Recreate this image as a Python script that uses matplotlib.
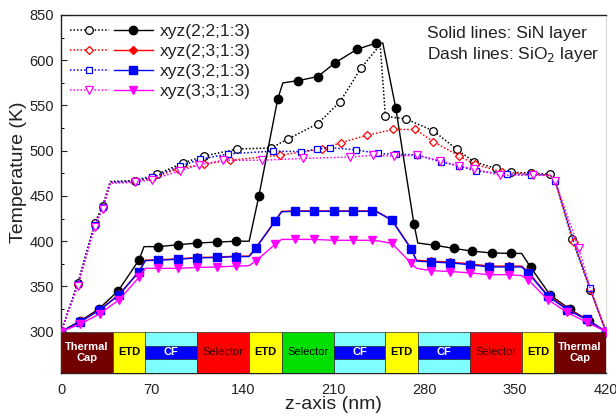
import matplotlib
matplotlib.use("Agg")
import matplotlib.pyplot as plt
from matplotlib.patches import Rectangle
from matplotlib.legend_handler import HandlerTuple

plt.rcParams['font.family'] = ['Liberation Sans', 'DejaVu Sans']

# ---------------- data ----------------
labels = ["xyz(2;2;1:3)", "xyz(2;3;1:3)", "xyz(3;2;1:3)", "xyz(3;3;1:3)"]

# Solid lines: SiN layer
sin22_x = [0, 15, 29, 44, 60, 64, 75, 90, 105, 120, 135, 145, 152.5, 167, 171, 183, 198, 211, 228, 243, 248,
           258, 272, 275, 288, 303, 317, 332, 347, 355, 362, 377, 392, 407, 420]
sin22_t = [300, 312, 325, 345, 379, 394, 394, 396, 398, 399, 400, 400, 450, 557, 575, 577.5, 582, 597, 612, 619, 619,
           547, 419, 398, 395.5, 392, 389, 387, 386.5, 386.5, 371, 340.5, 325, 312, 300]
sin22_corner = [64, 145, 171, 248, 275, 355]

sin32_x = [0, 15, 30, 45, 60, 65, 75, 90, 105, 120, 135, 145, 150, 165, 170, 180, 195, 210, 225, 240, 244,
           255, 270, 274, 285, 300, 315, 330, 345, 355, 360, 375, 390, 405, 420]
sin32_t = [300, 311, 324, 341, 366, 378.5, 379, 380, 381.5, 382, 383, 383, 392, 422, 432.5, 433, 433, 433, 433, 433, 432,
           423, 391, 378, 377, 376, 374, 371.5, 371.5, 371.5, 365, 339.5, 324.5, 313.5, 300]
sin32_corner = [65, 145, 170, 244, 274, 355]

sin23_x = sin32_x
sin23_t = [300, 311.5, 324.5, 341.5, 366.5, 379, 379.5, 380.5, 382, 382.5, 383.5, 383.5, 392.5, 422.5, 433, 433.5,
           433.5, 433.5, 433.5, 433.5, 432.5, 423.5, 391.5, 379, 378, 377, 375, 372.5, 372.5, 372.5, 366, 340.5,
           325.5, 314, 300]
sin23_corner = sin32_corner

sin33_x = sin32_x
sin33_t = [300, 308.5, 320, 335.5, 360, 370, 370, 370, 371, 371.5, 372.5, 373, 378, 396.5, 402, 402, 402, 401, 401, 401,
           400.5, 397.5, 375.5, 370, 367.5, 366.5, 365, 363, 363, 362, 357.5, 335.5, 321.5, 310.5, 300]
sin33_corner = sin32_corner

# Dash lines: SiO2 layer
sio22_x = [0, 13, 26, 32, 38, 57, 74, 94, 110, 136, 162, 175, 198, 215, 231, 246, 250, 266, 287, 305, 318, 335,
           347, 362, 377, 381, 394, 408, 420]
sio22_t = [300, 354, 420, 439, 466, 467, 474, 486.5, 494, 502, 503, 513, 530, 554, 591, 617, 538, 535, 522, 501.5,
           488, 480.5, 476, 475.5, 474, 466, 402, 346, 300]
sio22_corner = [38, 246, 381]

sio23_x = [0, 13, 26, 32, 38, 57, 70, 90, 110, 130, 169, 201, 216, 235.5, 256, 273, 287, 307, 319, 340, 363, 377,
           381, 395, 408, 420]
sio23_t = [300, 352, 417, 437, 465, 466, 469.5, 480, 485, 489.5, 495, 502, 509, 517, 523.5, 523.5, 510, 494, 485,
           476.5, 474, 473, 466, 399, 347, 300]
sio23_corner = [38, 377, 381]

sio32_x = [0, 13, 26, 32.5, 38, 57.5, 70, 92, 107, 129, 163, 185, 197, 207, 227, 244, 258, 274, 293, 307, 320,
           343.5, 362, 377, 381, 395, 407.5, 420]
sio32_t = [300, 353, 418, 438, 465, 466.5, 470.5, 483, 490.5, 496.5, 499.5, 499, 501.5, 503.5, 501, 497, 496, 495.5,
           487.5, 483, 477.5, 474, 473.5, 473, 466, 400, 348, 300]
sio32_corner = [38, 377, 395]

sio33_x = [0, 13, 26, 32, 38, 57, 70, 92, 106, 125, 155, 186.5, 222.5, 240.5, 257, 274, 292, 307, 318, 338, 364,
           377, 381, 399, 408, 420]
sio33_t = [300, 351, 416, 436, 464, 465, 468, 478, 484, 489.5, 489.5, 491.5, 493, 495, 494, 495, 489, 483, 480, 473,
           473, 472.5, 466, 392, 347, 300]
sio33_corner = [38, 377, 408]

# Layer stack along z (nm)
layer_names = ["Thermal\nCap", "ETD", "CF", "Selector", "ETD", "Selector", "CF", "ETD", "CF", "Selector", "ETD",
               "Thermal\nCap"]
layer_edges = [0, 40, 65, 105, 145, 170, 210, 250, 275, 315, 355, 380, 420]

ytick_vals = [300, 350, 400, 450, 500, 550, 600, 650]
ytick_labels = ["300", "350", "400", "450", "500", "550", "600", "850"]
xtick_vals = [0, 70, 140, 210, 280, 350, 420]

# ---------------- styles ----------------
colors = ["black", "#FF0000", "#0000FF", "#FF00FF"]
solid_markers = ["o", "D", "s", "v"]
open_markers = ["o", "D", "s", "v"]
layer_style = {
    "Thermal\nCap": dict(fc="#720000", tc="white", weight="bold"),
    "ETD": dict(fc="#FFFF00", tc="black", weight="bold"),
    "CF": dict(fc="#80FFFF", tc="white", weight="bold"),
    "Selector": None,
}

fig = plt.figure(figsize=(6.16, 4.17), dpi=100)
ax = fig.add_axes([61 / 616, 1 - 373.3 / 417, 545 / 616, 358.3 / 417])

def mark_idx(xs, corners):
    return [i for i, v in enumerate(xs) if v not in corners]

sio = [(sio22_x, sio22_t, sio22_corner), (sio23_x, sio23_t, sio23_corner),
       (sio32_x, sio32_t, sio32_corner), (sio33_x, sio33_t, sio33_corner)]
sin = [(sin22_x, sin22_t, sin22_corner), (sin23_x, sin23_t, sin23_corner),
       (sin32_x, sin32_t, sin32_corner), (sin33_x, sin33_t, sin33_corner)]
msz_open = [5.5, 4.5, 5, 5.5]
msz_fill = [6, 4.5, 5.5, 6]

dash_handles = []
solid_handles = [None] * 4
for i, (xs, ts, cs) in enumerate(sio):
    h, = ax.plot(xs, ts, linestyle=(0, (1, 1.3)), lw=1.1, color=colors[i], marker=open_markers[i],
                 markersize=msz_open[i], markerfacecolor="white", markeredgecolor=colors[i],
                 markeredgewidth=0.9, markevery=mark_idx(xs, cs), zorder=3)
    dash_handles.append(h)
for i in [1, 0, 2, 3]:
    xs, ts, cs = sin[i]
    h, = ax.plot(xs, ts, linestyle="-", lw=1.0, color=colors[i], marker=solid_markers[i],
                 markersize=msz_fill[i], markerfacecolor=colors[i], markeredgecolor=colors[i],
                 markevery=mark_idx(xs, cs), zorder=4 + i * 0.1)
    solid_handles[i] = h

# layer stack
ybot, ytop = 254, 300
sel_count = 0
for k, name in enumerate(layer_names):
    x0, x1 = layer_edges[k], layer_edges[k + 1]
    xc = (x0 + x1) / 2
    yc = (ybot + ytop) / 2
    if name == "CF":
        ax.add_patch(Rectangle((x0, ybot), x1 - x0, ytop - ybot, fc="#80FFFF", ec="#303030", lw=0.5, zorder=5))
        h = ytop - ybot
        ax.add_patch(Rectangle((x0, ybot + 0.34 * h), x1 - x0, 0.32 * h, fc="#0000FF", ec="#202020", lw=0.5,
                               zorder=5))
        ax.text(xc, yc, "CF", color="white", ha="center", va="center", fontsize=8, fontweight="bold", zorder=6)
    elif name == "Selector":
        green = (k == 5)
        fc = "#00E000" if green else "#FF0000"
        tc = "black" if green else "#3A0000"
        ax.add_patch(Rectangle((x0, ybot), x1 - x0, ytop - ybot, fc=fc, ec="#303030", lw=0.5, zorder=5))
        ax.text(xc, yc, name, color=tc, ha="center", va="center", fontsize=8, zorder=6)
    else:
        st = layer_style[name]
        ax.add_patch(Rectangle((x0, ybot), x1 - x0, ytop - ybot, fc=st["fc"], ec="#303030", lw=0.5, zorder=5))
        ax.text(xc, yc, name, color=st["tc"], ha="center", va="center", fontsize=8, fontweight=st["weight"],
                linespacing=1.05, zorder=6)

ax.set_xlim(0, 420)
ax.set_ylim(ybot, 650)
ax.set_xticks(xtick_vals)
ax.set_xticks([35, 105, 175, 245, 315, 385], minor=True)
ax.set_yticks(ytick_vals)
ax.set_yticklabels(ytick_labels)
ax.set_yticks([325, 375, 425, 475, 525, 575, 625], minor=True)
ax.tick_params(axis="both", which="major", direction="in", length=4, width=0.8, labelsize=10.5, colors="#222222")
ax.tick_params(axis="both", which="minor", direction="in", length=2.5, width=0.7)
ax.tick_params(axis="x", pad=7)
ax.tick_params(axis="y", pad=5)
for s in ["left", "bottom", "top"]:
    ax.spines[s].set_color("#222222")
    ax.spines[s].set_linewidth(1.0)
ax.spines["right"].set_color("#D8D8D8")
ax.spines["right"].set_linewidth(0.8)

ax.set_xlabel("z-axis (nm)", fontsize=14, color="#222222")
ax.set_ylabel("Temperature (K)", fontsize=14, color="#222222")
ax.xaxis.set_label_coords(0.499, -0.063)
ax.yaxis.set_label_coords(-0.062, 0.56)

ax.text(281.8, 629.8, "Solid lines: SiN layer", fontsize=12.5, va="center", ha="left", color="#222222")
ax.text(281.8, 606.5, "Dash lines: SiO$_2$ layer", fontsize=12.5, va="center", ha="left", color="#222222")

handles = [(dash_handles[i], solid_handles[i]) for i in range(4)]
leg = ax.legend(handles, labels, handler_map={tuple: HandlerTuple(ndivide=None, pad=0.3)},
                loc="upper left", bbox_to_anchor=(0.0, 1.0), frameon=False, fontsize=12.5,
                handlelength=4.8, handletextpad=0.4, labelspacing=0.28, borderaxespad=0.3,
                borderpad=0.2, numpoints=1)
for t in leg.get_texts():
    t.set_color("#222222")

fig.savefig("out.png", dpi=100)
